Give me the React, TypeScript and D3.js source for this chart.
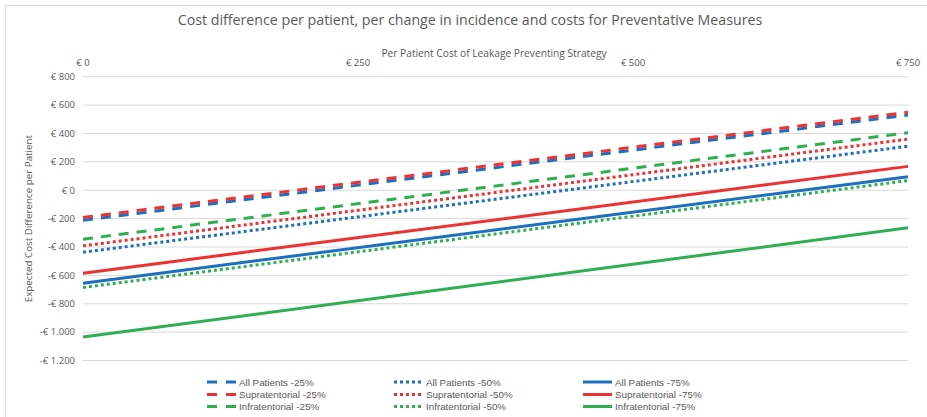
import React from "react";
import * as d3 from "d3";

const xTicks = [0, 250, 500, 750];
const yTicks = [800, 600, 400, 200, 0, -200, -400, -600, -800, -1000, -1200];

// Strategy cost (x) at the two ends of each line
const costPoints = [0, 750];

const allPatients25 = [-212, 530];
const supratentorial25 = [-192, 550];
const infratentorial25 = [-345, 405];
const allPatients50 = [-437, 310];
const supratentorial50 = [-392, 360];
const infratentorial50 = [-685, 68];
const allPatients75 = [-655, 95];
const supratentorial75 = [-585, 168];
const infratentorial75 = [-1035, -265];

const BLUE = "#1f6fbf";
const RED = "#ee3233";
const GREEN = "#2fae52";

type Style = "dash" | "dot" | "solid";

const series: { name: string; values: number[]; color: string; style: Style }[] = [
  { name: "All Patients -25%", values: allPatients25, color: BLUE, style: "dash" },
  { name: "Supratentorial -25%", values: supratentorial25, color: RED, style: "dash" },
  { name: "Infratentorial -25%", values: infratentorial25, color: GREEN, style: "dash" },
  { name: "All Patients -50%", values: allPatients50, color: BLUE, style: "dot" },
  { name: "Supratentorial -50%", values: supratentorial50, color: RED, style: "dot" },
  { name: "Infratentorial -50%", values: infratentorial50, color: GREEN, style: "dot" },
  { name: "All Patients -75%", values: allPatients75, color: BLUE, style: "solid" },
  { name: "Supratentorial -75%", values: supratentorial75, color: RED, style: "solid" },
  { name: "Infratentorial -75%", values: infratentorial75, color: GREEN, style: "solid" },
];

const W = 927;
const H = 417;
const FONT = "'Open Sans', 'Liberation Sans', sans-serif";
const LEGEND_FONT = "'Liberation Sans', Arial, sans-serif";
const TEXT = "#595959";

const x = d3.scaleLinear().domain([0, 750]).range([83, 908]);
const y = d3.scaleLinear().domain([-1200, 800]).range([360.5, 76.7]);

const fmt = (v: number) => {
  const abs = Math.abs(v);
  const s = abs >= 1000 ? `${Math.floor(abs / 1000)}.${String(abs % 1000).padStart(3, "0")}` : `${abs}`;
  return `${v < 0 ? "-" : ""}€ ${s}`;
};

const dashFor = (s: Style) => (s === "dash" ? "10,8" : s === "dot" ? "3,3" : undefined);

export default function App() {
  const line = d3
    .line<[number, number]>()
    .x((d) => x(d[0]))
    .y((d) => y(d[1]));

  const legendCols = [207, 394, 583];
  const legendRows = [382, 394.5, 406.5];

  return (
    <svg width={W} height={H} style={{ display: "block", position: "absolute", left: 0, top: 0 }}>
      <rect x={0} y={0} width={W} height={H} fill="#fff" />
      <path d={`M5.5,${H + 2}V5.5H${W + 2}`} fill="none" stroke="#d9d9d9" strokeWidth={1} />
      <text x={470} y={25} textAnchor="middle" fontFamily={FONT} fontSize={14.2} fill={TEXT}>
        Cost difference per patient, per change in incidence and costs for Preventative Measures
      </text>
      <text x={494} y={57} textAnchor="middle" fontFamily={FONT} fontSize={10.2} fill={TEXT}>
        Per Patient Cost of Leakage Preventing Strategy
      </text>
      {xTicks.map((t) => (
        <text key={t} x={x(t)} y={66} textAnchor="middle" fontFamily={FONT} fontSize={9.5} fill={TEXT}>
          {fmt(t)}
        </text>
      ))}
      {yTicks.map((t) => (
        <g key={t}>
          <line x1={x(0)} x2={x(750)} y1={y(t)} y2={y(t)} stroke="#d9d9d9" strokeWidth={1} />
          <text x={75} y={y(t) + 3.3} textAnchor="end" fontFamily={FONT} fontSize={9.5} fill={TEXT}>
            {fmt(t)}
          </text>
        </g>
      ))}
      <text
        transform={`translate(32,${y(-200)}) rotate(-90)`}
        textAnchor="middle"
        fontFamily={FONT}
        fontSize={9.8}
        fill={TEXT}
      >
        Expected Cost Difference per Patient
      </text>
      {series.map((s) => (
        <path
          key={s.name}
          d={line(costPoints.map((c, i) => [c, s.values[i]] as [number, number])) || ""}
          fill="none"
          stroke={s.color}
          strokeWidth={3}
          strokeDasharray={dashFor(s.style)}
        />
      ))}
      {series.map((s, i) => {
        const col = Math.floor(i / 3);
        const row = i % 3;
        const lx = legendCols[col];
        const ly = legendRows[row];
        return (
          <g key={`lg-${s.name}`}>
            <line
              x1={lx}
              x2={lx + 29}
              y1={ly}
              y2={ly}
              stroke={s.color}
              strokeWidth={3}
              strokeDasharray={s.style === "dash" ? "10,9" : s.style === "dot" ? "3,3" : undefined}
            />
            <text x={lx + 32} y={ly + 3.5} fontFamily={LEGEND_FONT} fontSize={9.8} fill={TEXT}>
              {s.name}
            </text>
          </g>
        );
      })}
    </svg>
  );
}
